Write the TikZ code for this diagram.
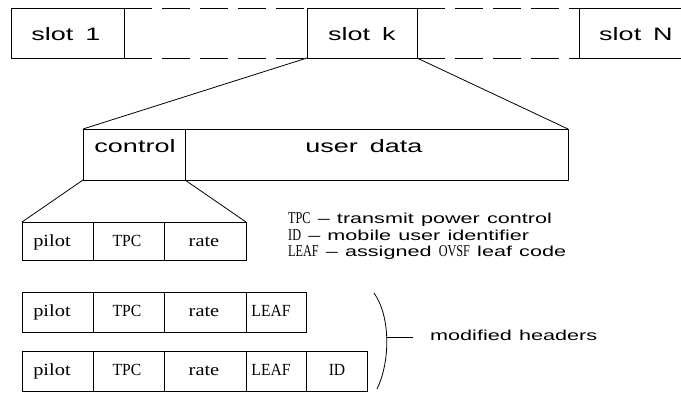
\documentclass[tikz,border=0pt]{standalone}
\usepackage{graphicx}
\usepackage{fontspec}
\newfontfamily\plotfont[FakeStretch=1.5,WordSpace=1.5]{Liberation Sans}
\newfontfamily\legendfont[FakeStretch=1.5,WordSpace=1.2]{Liberation Sans}
\newfontfamily\hdrfont[FakeStretch=1.2]{Liberation Serif}
\newfontfamily\serifcaps{Liberation Serif}
% serif capitals used for the field names
\newcommand\fieldcapstext[1]{\scalebox{0.92}[1]{\serifcaps\fontsize{17}{18}\selectfont #1}}
\newcommand\legendcapstext[1]{\scalebox{0.74}[1]{\serifcaps\fontsize{16.5}{17}\selectfont #1}}
\tikzset{
  cell/.style={draw, line width=0.9pt, inner sep=0pt, outer sep=0pt, anchor=north west},
  frame/.style={inner sep=0pt, outer sep=0pt, anchor=north west},
  wire/.style={line width=0.8pt},
  gapline/.style={line width=0.9pt, dash pattern=on 28pt off 10pt},
  biglabel/.style={font=\plotfont\fontsize{18}{20}\selectfont, inner sep=0pt, anchor=base},
  legendtext/.style={font=\legendfont\fontsize{14.4}{16}\selectfont, inner sep=0pt, anchor=base west},
  fieldtext/.style={font=\hdrfont\fontsize{17}{18}\selectfont, inner sep=0pt, anchor=base},
}
\begin{document}
\begin{tikzpicture}[x=1pt, y=-1pt]
\useasboundingbox (0,0) rectangle (681,392);

% frame of N slots
\node[cell, minimum width=113pt, minimum height=50pt] (slot1) at (11,8) {};
\node[cell, minimum width=110pt, minimum height=50pt] (slotk) at (307,8) {};
\node[frame, minimum width=102pt, minimum height=50pt] (slotN) at (579,8) {};
\draw[line width=0.9pt] (slotN.north east) -- (slotN.north west) -- (slotN.south west) -- (slotN.south east);
\draw[gapline] (slot1.north east) -- (slotk.north west);
\draw[gapline] (slot1.south east) -- (slotk.south west);
\draw[gapline] (slotk.north east) -- (slotN.north west);
\draw[gapline] (slotk.south east) -- (slotN.south west);
\node[biglabel] (t1) at (66,40) {slot\ \,1};
\node[biglabel] (tk) at (362,40) {slot\ \,k};
\node[biglabel] (tN) at (636,40) {slot\ \,N};

% slot contents
\node[cell, minimum width=102pt, minimum height=51pt] (ctrl) at (83,129) {};
\node[cell, minimum width=383pt, minimum height=51pt] (data) at (185,129) {};
\node[biglabel] (tctrl) at (135,152) {control};
\node[biglabel] (tdata) at (364,152) {user\ \,data};
\draw[wire] (slotk.south west) -- (ctrl.north west);
\draw[wire] (slotk.south east) -- (data.north east);

% basic control header
\node[cell, minimum width=71pt, minimum height=38pt] (pa) at (22,222) {};
\node[cell, minimum width=71pt, minimum height=38pt] (ta) at (93,222) {};
\node[cell, minimum width=82pt, minimum height=38pt] (ra) at (164,222) {};
\node[fieldtext] (pat) at (52,246) {pilot};
\node[fieldtext] (tat) at (127,246) {\fieldcapstext{TPC}};
\node[fieldtext] (rat) at (204,246) {rate};
\draw[wire] (ctrl.south west) -- (pa.north west);
\draw[wire] (ctrl.south east) -- (ra.north east);

% legend
\node[legendtext] (l1) at (288,223) {\legendcapstext{TPC} \textendash\ transmit power control};
\node[legendtext] (l2) at (288,240) {\legendcapstext{ID} \textendash\ mobile user identifier};
\node[legendtext] (l3) at (288,256) {\legendcapstext{LEAF} \textendash\ assigned \legendcapstext{OVSF} leaf code};

% modified header with leaf code
\node[cell, minimum width=71pt, minimum height=40pt] (pb) at (22,292) {};
\node[cell, minimum width=71pt, minimum height=40pt] (tb) at (93,292) {};
\node[cell, minimum width=82pt, minimum height=40pt] (rb) at (164,292) {};
\node[cell, minimum width=60pt, minimum height=40pt] (lb) at (246,292) {};
\node[fieldtext] (pbt) at (52,316) {pilot};
\node[fieldtext] (tbt) at (127,316) {\fieldcapstext{TPC}};
\node[fieldtext] (rbt) at (204,316) {rate};
\node[fieldtext] (lbt) at (271,316) {\fieldcapstext{LEAF}};

% modified header with leaf code and user id
\node[cell, minimum width=71pt, minimum height=40pt] (pc) at (22,351) {};
\node[cell, minimum width=71pt, minimum height=40pt] (tc) at (93,351) {};
\node[cell, minimum width=82pt, minimum height=40pt] (rc) at (164,351) {};
\node[cell, minimum width=60pt, minimum height=40pt] (lc) at (246,351) {};
\node[cell, minimum width=61pt, minimum height=40pt] (ic) at (306,351) {};
\node[fieldtext] (pct) at (52,375) {pilot};
\node[fieldtext] (tct) at (127,375) {\fieldcapstext{TPC}};
\node[fieldtext] (rct) at (204,375) {rate};
\node[fieldtext] (lct) at (271,375) {\fieldcapstext{LEAF}};
\node[fieldtext] (ict) at (337,375) {\fieldcapstext{ID}};

% bracket
\coordinate (btop) at (374,293);
\coordinate (bbot) at (377,389);
\coordinate (bmid) at (387,337);
\coordinate (btick) at (413,337);
\draw[wire] (btop) .. controls (390,315) and (391,360) .. (bbot);
\draw[wire] (bmid) -- (btick);
\node[legendtext] (mh) at (430,340) {modified headers};
\end{tikzpicture}
\end{document}
